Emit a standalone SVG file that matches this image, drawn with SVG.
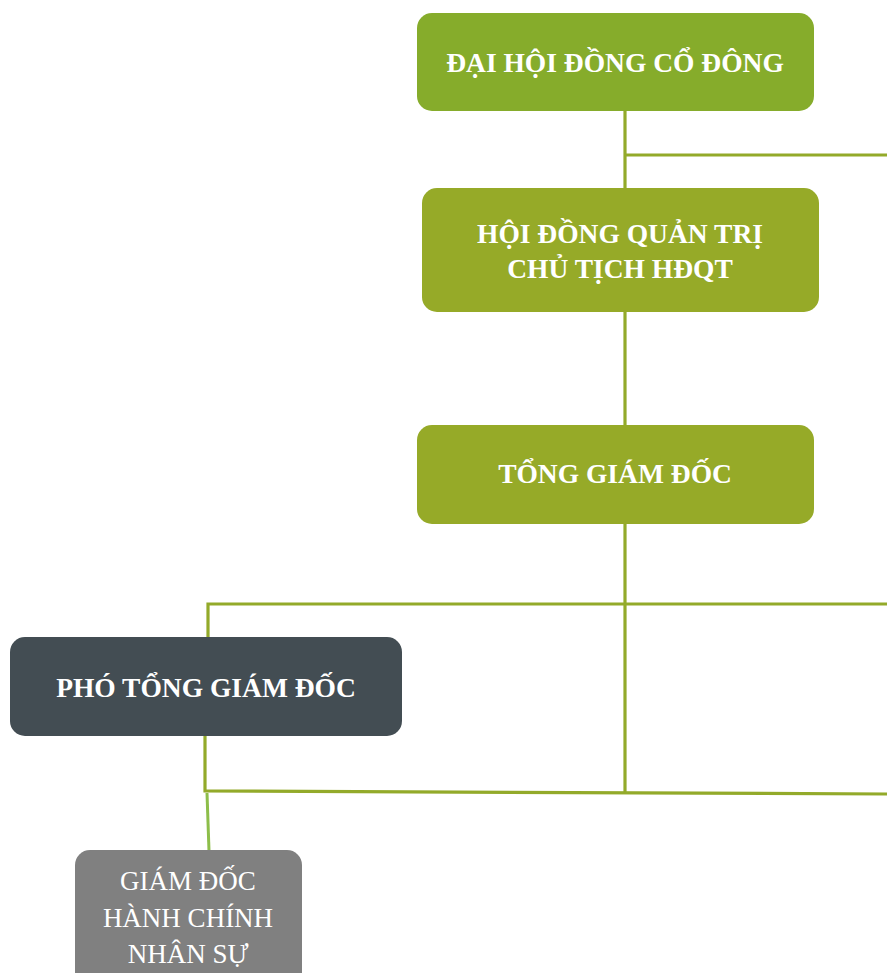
<svg xmlns="http://www.w3.org/2000/svg" width="887" height="973" viewBox="0 0 887 973">
<style>
.ln{stroke:#93AA2A;stroke-width:3.2;fill:none}
.lt{stroke:#8DBE4A;stroke-width:3;fill:none}
.tb{font-family:"Liberation Serif","Times New Roman",serif;font-weight:bold;font-size:27.5px;fill:#ffffff;text-anchor:middle}
.tr{font-family:"Liberation Serif","Times New Roman",serif;font-size:27px;fill:#ffffff;text-anchor:middle}
</style>
<rect width="887" height="973" fill="#ffffff"/>
<g id="connectors">
<line class="ln" x1="625" y1="110" x2="625" y2="189"/>
<line class="ln" x1="625" y1="155" x2="887" y2="155"/>
<line class="ln" x1="625" y1="311" x2="625" y2="426"/>
<line class="ln" x1="625" y1="523" x2="625" y2="793"/>
<polyline class="ln" points="208,638 208,604 887,604"/>
<polyline class="ln" points="205,735 205,791 887,794"/>
<line class="lt" x1="207" y1="793" x2="209" y2="851"/>
</g>
<g id="dhdcd">
<rect x="417" y="13" width="397" height="98" rx="15" fill="#86AC2B"/>
<text class="tb" x="615" y="72">ĐẠI HỘI ĐỒNG CỔ ĐÔNG</text>
</g>
<g id="hdqt">
<rect x="422" y="188" width="397" height="124" rx="15" fill="#96AA28"/>
<text class="tb" x="620" y="243">HỘI ĐỒNG QUẢN TRỊ</text>
<text class="tb" x="620" y="278">CHỦ TỊCH HĐQT</text>
</g>
<g id="tgd">
<rect x="417" y="425" width="397" height="99" rx="15" fill="#96AA28"/>
<text class="tb" x="615" y="483">TỔNG GIÁM ĐỐC</text>
</g>
<g id="ptgd">
<rect x="10" y="637" width="392" height="99" rx="15" fill="#434D53"/>
<text class="tb" x="206" y="697">PHÓ TỔNG GIÁM ĐỐC</text>
</g>
<g id="gdhcns">
<rect x="75" y="850" width="227" height="140" rx="15" fill="#808080"/>
<text class="tr" x="188" y="890">GIÁM ĐỐC</text>
<text class="tr" x="188" y="927">HÀNH CHÍNH</text>
<text class="tr" x="188" y="963">NHÂN SỰ</text>
</g>
</svg>
